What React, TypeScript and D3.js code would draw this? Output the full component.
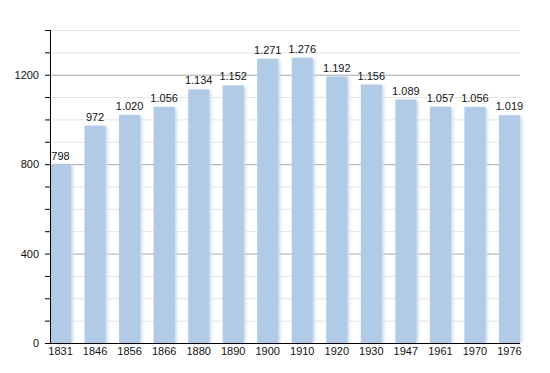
import React, { useEffect, useRef } from 'react';
import * as d3 from 'd3';

const years = ['1831', '1846', '1856', '1866', '1880', '1890', '1900', '1910', '1920', '1930', '1947', '1961', '1970', '1976'];
const population = [798, 972, 1020, 1056, 1134, 1152, 1271, 1276, 1192, 1156, 1089, 1057, 1056, 1019];
const majorTicks = [0, 400, 800, 1200];
const minorTicks = d3.range(100, 1500, 100).filter(v => v % 400 !== 0);

const width = 550;
const height = 373;

const fmt = (v: number) => (v >= 1000 ? `${Math.floor(v / 1000)}.${String(v % 1000).padStart(3, '0')}` : String(v));

const App: React.FC = () => {
  const svgRef = useRef<SVGSVGElement>(null);

  useEffect(() => {
    if (!svgRef.current) return;
    const svg = d3.select(svgRef.current);
    svg.selectAll('*').remove();

    const left = 50;
    const right = 520;
    const bottom = 343;
    const top = 30;

    const x = d3.scaleBand<string>()
      .domain(years)
      .range([left, right])
      .paddingInner(0.39)
      .paddingOuter(0);

    const y = d3.scaleLinear()
      .domain([0, 1400])
      .range([bottom, top]);

    const defs = svg.append('defs');
    defs.append('filter')
      .attr('id', 'soft')
      .attr('x', '-50%').attr('width', '200%')
      .append('feGaussianBlur')
      .attr('stdDeviation', 1.5);

    // light grid lines
    svg.append('g')
      .selectAll('line')
      .data(minorTicks)
      .enter()
      .append('line')
      .attr('x1', left)
      .attr('x2', right)
      .attr('y1', d => y(d) + 0.5)
      .attr('y2', d => y(d) + 0.5)
      .attr('stroke', '#e4e4e4')
      .attr('stroke-width', 1);

    // major grid lines
    svg.append('g')
      .selectAll('line')
      .data(majorTicks.filter(d => d > 0))
      .enter()
      .append('line')
      .attr('x1', left)
      .attr('x2', right)
      .attr('y1', d => y(d) + 0.5)
      .attr('y2', d => y(d) + 0.5)
      .attr('stroke', '#a8a8a8')
      .attr('stroke-width', 1);

    const bars = svg.append('g');
    // soft shadow to the right of each bar
    bars.selectAll('.shadow')
      .data(population)
      .enter()
      .append('rect')
      .attr('class', 'shadow')
      .attr('x', (d, i) => (x(years[i]) || 0) + 2)
      .attr('y', d => y(d) + 1)
      .attr('width', x.bandwidth())
      .attr('height', d => bottom - y(d) - 1)
      .attr('fill', '#c9daee')
      .attr('filter', 'url(#soft)');

    bars.selectAll('.bar')
      .data(population)
      .enter()
      .append('rect')
      .attr('class', 'bar')
      .attr('x', (d, i) => x(years[i]) || 0)
      .attr('y', d => y(d))
      .attr('width', x.bandwidth())
      .attr('height', d => bottom - y(d))
      .attr('fill', '#b1cbe6');

    // value labels
    svg.append('g')
      .selectAll('text')
      .data(population)
      .enter()
      .append('text')
      .attr('x', (d, i) => (x(years[i]) || 0) + x.bandwidth() / 2)
      .attr('y', d => y(d) - 5)
      .attr('text-anchor', 'middle')
      .attr('font-family', 'Liberation Sans, Arial, sans-serif')
      .attr('font-size', '11px')
      .attr('fill', '#111')
      .text(d => fmt(d));

    // y axis
    const yAxis = svg.append('g');
    yAxis.append('line')
      .attr('x1', left + 0.5).attr('x2', left + 0.5)
      .attr('y1', top).attr('y2', bottom)
      .attr('stroke', '#000');
    yAxis.selectAll('.tk')
      .data(d3.range(0, 1500, 100))
      .enter()
      .append('line')
      .attr('x1', left - 5)
      .attr('x2', left)
      .attr('y1', d => y(d) + 0.5)
      .attr('y2', d => y(d) + 0.5)
      .attr('stroke', '#000');
    yAxis.selectAll('text')
      .data(majorTicks)
      .enter()
      .append('text')
      .attr('x', left - 11)
      .attr('y', d => y(d) + 4)
      .attr('text-anchor', 'end')
      .attr('font-family', 'Liberation Sans, Arial, sans-serif')
      .attr('font-size', '11px')
      .attr('fill', '#111')
      .text(d => String(d));

    // x axis
    svg.append('line')
      .attr('x1', left).attr('x2', right)
      .attr('y1', bottom + 0.5).attr('y2', bottom + 0.5)
      .attr('stroke', '#000');
    svg.append('g')
      .selectAll('text')
      .data(years)
      .enter()
      .append('text')
      .attr('x', d => (x(d) || 0) + x.bandwidth() / 2)
      .attr('y', bottom + 12)
      .attr('text-anchor', 'middle')
      .attr('font-family', 'Liberation Sans, Arial, sans-serif')
      .attr('font-size', '11px')
      .attr('fill', '#111')
      .text(d => d);
  }, []);

  return (
    <svg
      ref={svgRef}
      width={width}
      height={height}
      style={{ position: 'absolute', left: 0, top: 0, background: '#fff' }}
    />
  );
};

export default App;
